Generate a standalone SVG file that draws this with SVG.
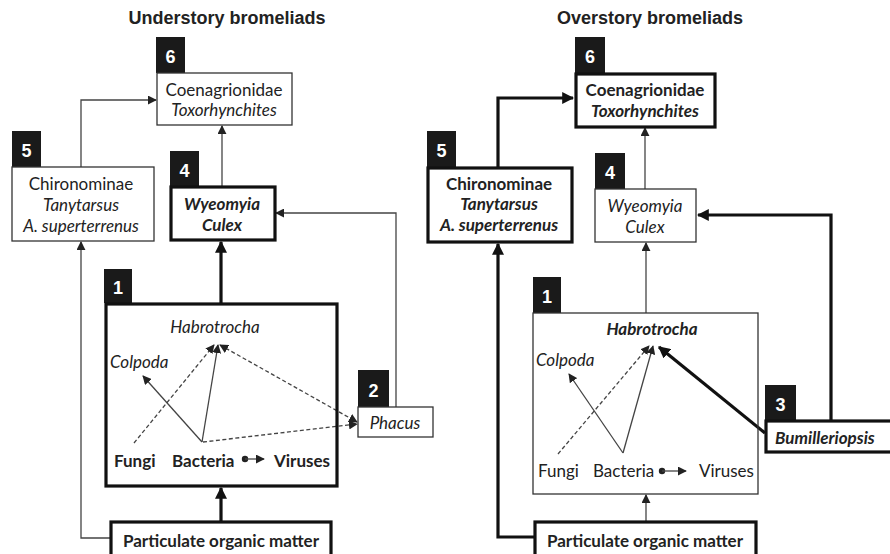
<svg xmlns="http://www.w3.org/2000/svg" width="890" height="554" viewBox="0 0 890 554">
<defs>
<style>
.t{font-family:Lato,"Open Sans","Liberation Sans",sans-serif;font-size:17px;fill:#222}
.c{text-anchor:middle}
.b{font-weight:bold}
.i{font-style:italic}
.title{font-family:"Liberation Sans",Arial,sans-serif;font-size:18px;font-weight:bold;fill:#222;text-anchor:middle}
.tab{fill:#1a1a1a}
.num{font-family:"Liberation Sans",Arial,sans-serif;font-size:18px;font-weight:bold;fill:#fff;text-anchor:middle}
.bx{fill:#fff;stroke:#333;stroke-width:1.3}
.bxk{fill:#fff;stroke:#111;stroke-width:3.2}
.ln{fill:none;stroke:#444;stroke-width:1.3}
.lk{fill:none;stroke:#111;stroke-width:3.2}
.ds{stroke-dasharray:4 2.5}
</style>
<marker id="a" viewBox="0 0 10 10" refX="9" refY="5" markerWidth="9" markerHeight="9" markerUnits="userSpaceOnUse" orient="auto-start-reverse"><path d="M0,0 L10,5 L0,10 Z" fill="#222"/></marker>
<marker id="ak" viewBox="0 0 10 10" refX="9" refY="5" markerWidth="12" markerHeight="12" markerUnits="userSpaceOnUse" orient="auto"><path d="M0,0 L10,5 L0,10 Z" fill="#111"/></marker>
</defs>
<rect width="890" height="554" fill="#fff"/>

<text class="title" x="227" y="24">Understory bromeliads</text>
<text class="title" x="650" y="24">Overstory bromeliads</text>

<g id="connectors">
<path class="ln" d="M81,167 V100 H156" marker-end="url(#a)"/>
<path class="ln" d="M222,186 V126" marker-end="url(#a)"/>
<path class="ln" d="M396,407 V213 H276" marker-end="url(#a)"/>
<path class="ln" d="M111,538 H81 V242" marker-end="url(#a)"/>
<path class="lk" d="M221,303 V242" marker-end="url(#ak)"/>
<path class="lk" d="M221,522 V488" marker-end="url(#ak)"/>
<path class="ln" d="M202,442 L143,376" marker-end="url(#a)"/>
<path class="ln" d="M202,442 L218,345" marker-end="url(#a)"/>
<path class="ln ds" d="M134,443 L214,345" marker-end="url(#a)"/>
<path class="ln ds" d="M220,345 L357,422" marker-start="url(#a)" marker-end="url(#a)"/>
<path class="ln ds" d="M203,442 L357,424" marker-end="url(#a)"/>
<circle cx="245" cy="459" r="3.2" fill="#222"/>
<path class="ln" d="M245,459 H264" marker-end="url(#a)"/>

<path class="lk" d="M498,167 V98 H573" marker-end="url(#ak)"/>
<path class="ln" d="M645,189 V128" marker-end="url(#a)"/>
<path class="lk" d="M831,420 V215 H698" marker-end="url(#ak)"/>
<path class="lk" d="M535,537 H498 V244" marker-end="url(#ak)"/>
<path class="ln" d="M646,313 V243" marker-end="url(#a)"/>
<path class="ln" d="M646,522 V495" marker-end="url(#a)"/>
<path class="ln" d="M623,453 L569,374" marker-end="url(#a)"/>
<path class="ln" d="M623,453 L653,346" marker-end="url(#a)"/>
<path class="ln ds" d="M558,454 L649,346" marker-end="url(#a)"/>
<path class="lk" d="M765,433 L659,347" marker-end="url(#ak)"/>
<circle cx="662" cy="471" r="3.2" fill="#222"/>
<path class="ln" d="M662,471 H686" marker-end="url(#a)"/>
</g>

<g id="u6">
<rect class="tab" x="156" y="37" width="29" height="36"/>
<text class="num" x="170.5" y="63">6</text>
<rect class="bx" x="157" y="73" width="135" height="52"/>
<text class="t c" x="224" y="96">Coenagrionidae</text>
<text class="t c i" x="224" y="116">Toxorhynchites</text>
</g>
<g id="u5">
<rect class="tab" x="12" y="131" width="29" height="36"/>
<text class="num" x="26.5" y="157">5</text>
<rect class="bx" x="12" y="167" width="142" height="74"/>
<text class="t c" x="81" y="190">Chironominae</text>
<text class="t c i" x="81" y="211">Tanytarsus</text>
<text class="t c i" x="81" y="232">A. superterrenus</text>
</g>
<g id="u4">
<rect class="tab" x="170" y="151" width="29" height="35"/>
<text class="num" x="184.5" y="177">4</text>
<rect class="bxk" x="171" y="187" width="104" height="53"/>
<text class="t c b i" x="222" y="210">Wyeomyia</text>
<text class="t c b i" x="222" y="231">Culex</text>
</g>
<g id="u1">
<rect class="tab" x="104" y="269" width="28" height="34"/>
<text class="num" x="118" y="294">1</text>
<rect class="bxk" x="106" y="304" width="231" height="182" style="fill:none"/>
<text class="t c i" x="215" y="333">Habrotrocha</text>
<text class="t i" x="110" y="368">Colpoda</text>
<text class="t b" x="114" y="467">Fungi</text>
<text class="t b" x="172" y="467">Bacteria</text>
<text class="t b" x="274" y="467">Viruses</text>
</g>
<g id="u2">
<rect class="tab" x="358" y="370" width="31" height="37"/>
<text class="num" x="373.5" y="397">2</text>
<rect class="bx" x="358" y="407" width="75" height="30"/>
<text class="t c i" x="395" y="429">Phacus</text>
</g>
<g id="upom">
<rect class="bxk" x="111" y="522" width="220" height="34"/>
<text class="t c b" x="221" y="547">Particulate organic matter</text>
</g>

<g id="o6">
<rect class="tab" x="575" y="37" width="30" height="36"/>
<text class="num" x="590" y="63">6</text>
<rect class="bxk" x="576" y="74" width="139" height="53"/>
<text class="t c b" x="645" y="96">Coenagrionidae</text>
<text class="t c b i" x="645" y="117">Toxorhynchites</text>
</g>
<g id="o5">
<rect class="tab" x="427" y="131" width="29" height="36"/>
<text class="num" x="441.5" y="157">5</text>
<rect class="bxk" x="428" y="168" width="144" height="74"/>
<text class="t c b" x="499" y="190">Chironominae</text>
<text class="t c b i" x="499" y="210">Tanytarsus</text>
<text class="t c b i" x="499" y="231">A. superterrenus</text>
</g>
<g id="o4">
<rect class="tab" x="595" y="153" width="30" height="36"/>
<text class="num" x="610" y="179">4</text>
<rect class="bx" x="595" y="189" width="101" height="53"/>
<text class="t c i" x="645" y="212">Wyeomyia</text>
<text class="t c i" x="645" y="233">Culex</text>
</g>
<g id="o1">
<rect class="tab" x="533" y="277" width="28" height="36"/>
<text class="num" x="547" y="303">1</text>
<rect class="bx" x="533" y="313" width="225" height="181" style="fill:none"/>
<text class="t c b i" x="652" y="335">Habrotrocha</text>
<text class="t i" x="536" y="366">Colpoda</text>
<text class="t" x="538" y="477">Fungi</text>
<text class="t" x="593" y="477">Bacteria</text>
<text class="t" x="699" y="477">Viruses</text>
</g>
<g id="o3">
<rect class="tab" x="765" y="385" width="31" height="35"/>
<text class="num" x="780.5" y="411">3</text>
<rect class="bxk" x="766" y="421" width="130" height="31"/>
<text class="t b i" x="775" y="444">Bumilleriopsis</text>
</g>
<g id="opom">
<rect class="bxk" x="535" y="522" width="221" height="34"/>
<text class="t c b" x="645" y="547">Particulate organic matter</text>
</g>
</svg>
